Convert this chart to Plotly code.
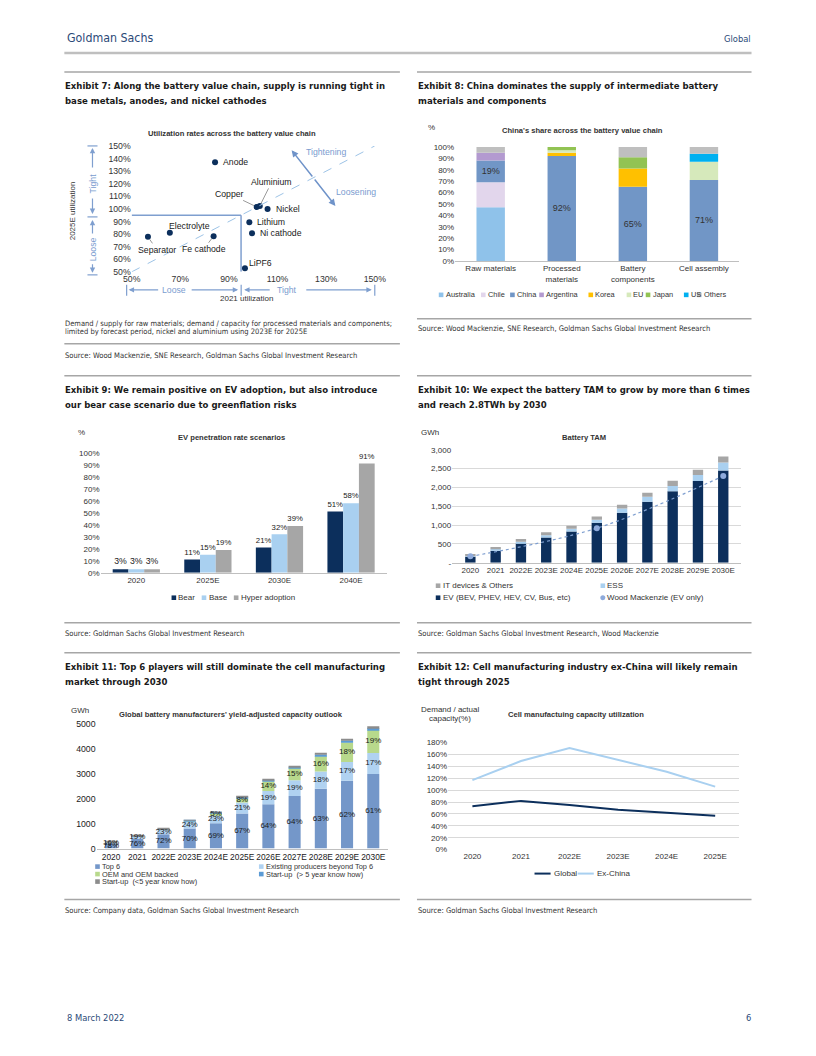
import numpy as np
import plotly.graph_objects as go

W, H = 816, 1056
NARROW = "Liberation Sans Narrow, Arial Narrow, DejaVu Sans Condensed, sans-serif"
SANS = "Liberation Sans, Arial, Helvetica, sans-serif"
TXT = "#333333"
DARK = "#1a1a1a"
HEAD = "#2c4a78"
NAVY = "#0c2f5c"
LIGHT = "#a9d0f0"
GREY = "#a6a6a6"
RULE = "#a6a6a6"
STEEL = "#7f9fcf"

# ====================== DATA ======================
# Exhibit 7 - utilization scatter
e7_items = ["Anode", "Copper", "Aluminium", "Nickel", "Lithium", "Ni cathode",
            "Electrolyte", "Separator", "Fe cathode", "LiPF6"]
e7_util_2021 = [84.3, 101.4, 102.7, 105.9, 98.4, 99.5, 65.7, 56.7, 83.7, 96.6]
e7_util_2025e = [137.0, 101.6, 102.4, 100.0, 89.4, 80.7, 81.0, 77.8, 78.3, 52.9]
e7_xticks = [50, 70, 90, 110, 130, 150]

# Exhibit 8 - share across value chain (%)
e8_categories = ["Raw materials", "Processed<br>materials", "Battery<br>components", "Cell assembly"]
e8_australia = [47, 0, 0, 0]
e8_chile = [22, 0, 0, 0]
e8_china = [19, 92, 65, 71]
e8_argentina = [7, 0, 0, 0]
e8_korea = [0, 3, 16, 0]
e8_eu = [0, 2, 0, 16]
e8_japan = [0, 3, 10, 0]
e8_us = [0, 0, 0, 7]
e8_others = [5, 0, 9, 6]

# Exhibit 9 - EV penetration (%)
e9_years = ["2020", "2025E", "2030E", "2040E"]
e9_bear = [3, 11, 21, 51]
e9_base = [3, 15, 32, 58]
e9_hyper = [3, 19, 39, 91]

# Exhibit 10 - Battery TAM (GWh)
e10_years = ["2020", "2021", "2022E", "2023E", "2024E", "2025E",
             "2026E", "2027E", "2028E", "2029E", "2030E"]
e10_ev = [160, 320, 510, 670, 830, 1060, 1330, 1620, 1900, 2170, 2450]
e10_ess = [15, 40, 50, 60, 70, 80, 110, 130, 140, 160, 210]
e10_it = [55, 60, 70, 80, 80, 90, 100, 110, 140, 140, 160]
e10_wm_years = ["2020", "2025E", "2030E"]
e10_wm = [169, 917, 2305]
e10_ticks = [0, 500, 1000, 1500, 2000, 2500, 3000]
e10_ticklabels = ["-", "500", "1,000", "1,500", "2,000", "2,500", "3,000"]

# Exhibit 11 - yield-adjusted capacity (GWh)
e11_years = e10_years
e11_top6 = [218, 395, 576, 805, 1014, 1407, 1779, 2106, 2400, 2716, 2989]
e11_existing = [45, 99, 184, 276, 338, 441, 528, 625, 686, 745, 833]
e11_oem = [6, 10, 16, 35, 74, 168, 389, 494, 610, 788, 931]
e11_startup_old = [6, 8, 14, 23, 29, 52, 56, 40, 70, 79, 76]
e11_startup_new = [5, 8, 10, 11, 15, 32, 28, 25, 44, 52, 71]
e11_top6_lbl = ["78%", "76%", "72%", "70%", "69%", "67%", "64%", "64%", "63%", "62%", "61%"]
e11_existing_lbl = ["16%", "19%", "23%", "24%", "23%", "21%", "19%", "19%", "18%", "17%", "17%"]
e11_oem_lbl = ["", "", "", "", "5%", "8%", "14%", "15%", "16%", "18%", "19%"]

# Exhibit 12 - cell capacity utilization (%)
e12_years = ["2020", "2021", "2022E", "2023E", "2024E", "2025E"]
e12_global = [73, 82, 75, 67, 62, 57]
e12_exchina = [117, 149, 171, 151, 131, 106]

# ====================== HELPERS ======================
# page positions are given in target-picture pixels; small correction for how the page is photographed
SX, OX = 0.971, 10.9
SY, OY = 0.991, 4.0


def px(x):
    return ((x - OX) / SX) / W


def py(y):
    return 1 - ((y - OY) / SY) / H


shapes = []
annotations = []


def pline(x0, y0, x1, y1, color=RULE, width=1.5, dash=None):
    shapes.append(dict(type="line", xref="paper", yref="paper", x0=px(x0), y0=py(y0),
                       x1=px(x1), y1=py(y1), line=dict(color=color, width=width, dash=dash)))


def ptext(x, y, text, size=8, color=TXT, family=SANS, xanchor="left", bold=False, angle=0):
    if bold:
        text = f"<b>{text}</b>"
    annotations.append(dict(xref="paper", yref="paper", x=px(x), y=py(y), text=text,
                            showarrow=False, xanchor=xanchor, yanchor="middle", borderpad=0,
                            font=dict(family=family, size=size, color=color), textangle=angle))


def parrow(xh, yh, xt, yt, color=STEEL):
    annotations.append(dict(xref="paper", yref="paper", x=px(xh), y=py(yh), ax=xt - xh, ay=yt - yh,
                            text="", showarrow=True, arrowhead=2, arrowsize=0.9, arrowwidth=1.2,
                            arrowcolor=color))


def legend_item(x, y, text, color, kind="square", size=7.5):
    if kind == "square":
        shapes.append(dict(type="rect", xref="paper", yref="paper", x0=px(x - 2.3), x1=px(x + 2.3),
                           y0=py(y + 2.3), y1=py(y - 2.3), fillcolor=color, line=dict(width=0)))
        ptext(x + 3.5, y, text, size=size)
    elif kind == "circle":
        shapes.append(dict(type="circle", xref="paper", yref="paper", x0=px(x - 2.5), x1=px(x + 2.5),
                           y0=py(y + 2.5), y1=py(y - 2.5), fillcolor=color, line=dict(width=0)))
        ptext(x + 3.5, y, text, size=size)
    else:  # line
        pline(x - 8, y, x + 8, y, color=color, width=2)
        ptext(x + 10, y, text, size=size)


def axis(domain, **kw):
    d = dict(domain=domain, showgrid=False, zeroline=False, showline=False, ticks="",
             fixedrange=True, tickangle=0, tickfont=dict(family=SANS, size=8, color=TXT))
    d.update(kw)
    return d


def xdom(a, b):
    return [px(a), px(b)]


def ydom(bottom, top):
    return [py(bottom), py(top)]


fig = go.Figure()


def add_stack(xa, ya, cats, series, width):
    base = np.zeros(len(cats))
    for vals, color, txt in series:
        v = np.array(vals, dtype=float)
        kw = {}
        if txt is not None:
            kw = dict(text=txt, textposition="inside", insidetextanchor="middle",
                      textfont=dict(family=SANS, size=9, color=TXT), textangle=0)
        fig.add_trace(go.Bar(x=cats, y=v, base=base.copy(), width=width,
                             marker=dict(color=color, line=dict(width=0)),
                             xaxis=xa, yaxis=ya, hoverinfo="skip", **kw))
        base = base + v
    return base


# ====================== PAGE FRAME ======================
ptext(68, 37, "Goldman Sachs", size=12.3, color=HEAD, family=NARROW)
ptext(750, 38, "Global", size=9.3, color=HEAD, family=NARROW, xanchor="right")
pline(66, 52, 750, 52, color="#bfbfbf", width=2.5)
ptext(68, 1017, "8 March 2022", size=9.3, color=HEAD, family=NARROW)
ptext(750, 1017, "6", size=9.3, color=HEAD, family=NARROW, xanchor="right")

TS = 9.5
for (xl, xr), ytop, l1, l2 in [
    ((66, 400), 71, "Exhibit 7: Along the battery value chain, supply is running tight in",
     "base metals, anodes, and nickel cathodes"),
    ((417, 750), 71, "Exhibit 8: China dominates the supply of intermediate battery",
     "materials and components"),
    ((66, 400), 375, "Exhibit 9: We remain positive on EV adoption, but also introduce",
     "our bear case scenario due to greenflation risks"),
    ((417, 750), 375, "Exhibit 10: We expect the battery TAM to grow by more than 6 times",
     "and reach 2.8TWh by 2030"),
    ((66, 400), 652, "Exhibit 11: Top 6 players will still dominate the cell manufacturing",
     "market through 2030"),
    ((417, 750), 652, "Exhibit 12: Cell manufacturing industry ex-China will likely remain",
     "tight through 2025"),
]:
    pline(xl, ytop, xr, ytop)
    ptext(xl, ytop + 14, l1, size=TS, color=DARK, family=NARROW, bold=True)
    ptext(xl, ytop + 29, l2, size=TS, color=DARK, family=NARROW, bold=True)

SRC = 7.6
ptext(66, 323, "Demand / supply for raw materials; demand / capacity for processed materials and components;",
      size=7.5, family=NARROW)
ptext(66, 331, "limited by forecast period, nickel and aluminium using 2023E for 2025E", size=7.5, family=NARROW)
pline(66, 343, 400, 343)
ptext(66, 355, "Source: Wood Mackenzie, SNE Research, Goldman Sachs Global Investment Research",
      size=SRC, family=NARROW)
pline(417, 318, 750, 318)
ptext(417, 328, "Source: Wood Mackenzie, SNE Research, Goldman Sachs Global Investment Research",
      size=SRC, family=NARROW)
pline(66, 622, 400, 622)
ptext(66, 633, "Source: Goldman Sachs Global Investment Research", size=SRC, family=NARROW)
pline(417, 622, 750, 622)
ptext(417, 633, "Source: Goldman Sachs Global Investment Research, Wood Mackenzie", size=SRC, family=NARROW)
pline(66, 899, 400, 899)
ptext(66, 910, "Source: Company data, Goldman Sachs Global Investment Research", size=SRC, family=NARROW)
pline(417, 899, 750, 899)
ptext(417, 910, "Source: Goldman Sachs Global Investment Research", size=SRC, family=NARROW)

# ====================== EXHIBIT 7 ======================
ptext(233, 133, "Utilization rates across the battery value chain", size=7.6, bold=True, xanchor="center")
fig.add_trace(go.Scatter(x=e7_util_2021, y=e7_util_2025e, mode="markers",
                         marker=dict(color=NAVY, size=6), xaxis="x", yaxis="y",
                         cliponaxis=False, hoverinfo="skip"))
e7_label_style = {
    "Anode": dict(xshift=6, yshift=0),
    "Nickel": dict(xshift=6, yshift=0),
    "Lithium": dict(xshift=6, yshift=0),
    "Ni cathode": dict(xshift=6, yshift=0),
    "Electrolyte": dict(xshift=20, yshift=7, xanchor="center"),
    "Copper": dict(ax=-27, ay=-13),
    "Aluminium": dict(ax=12, ay=-24),
    "Separator": dict(ax=9, ay=13),
    "Fe cathode": dict(ax=-10, ay=13),
    "LiPF6": dict(ax=16, ay=-5),
}
for name, xv, yv in zip(e7_items, e7_util_2021, e7_util_2025e):
    st = e7_label_style[name]
    if "ax" in st:
        annotations.append(dict(x=xv, y=yv, xref="x", yref="y", text=name, showarrow=True,
                                arrowhead=0, arrowwidth=0.8, arrowcolor="#808080",
                                ax=st["ax"], ay=st["ay"], standoff=3,
                                font=dict(family=SANS, size=8.7, color=DARK)))
    else:
        annotations.append(dict(x=xv, y=yv, xref="x", yref="y", text=name, showarrow=False,
                                xanchor=st.get("xanchor", "left"), yanchor="middle",
                                xshift=st["xshift"], yshift=st["yshift"],
                                font=dict(family=SANS, size=8.7, color=DARK)))
shapes.append(dict(type="line", xref="x", yref="y", x0=50, y0=50, x1=150, y1=150,
                   line=dict(color="#9dc3e6", width=1, dash="dash")))
shapes.append(dict(type="line", xref="x", yref="y", x0=50, y0=95, x1=95, y1=95,
                   line=dict(color=STEEL, width=1.5)))
shapes.append(dict(type="line", xref="x", yref="y", x0=95, y0=50, x1=95, y1=95,
                   line=dict(color=STEEL, width=1.5)))
for hx, hy in [(115.8, 146.6), (133.8, 102.4)]:
    annotations.append(dict(x=hx, y=hy, xref="x", yref="y", ax=124.8, ay=124.5, axref="x", ayref="y",
                            text="", showarrow=True, arrowhead=2, arrowsize=0.9, arrowwidth=1.5,
                            arrowcolor="#6f93c9"))
annotations.append(dict(x=121, y=145.5, xref="x", yref="y", text="Tightening", showarrow=False,
                        xanchor="left", font=dict(family=SANS, size=8.7, color="#7a9ccf")))
annotations.append(dict(x=133.1, y=113.8, xref="x", yref="y", text="Loosening", showarrow=False,
                        xanchor="left", font=dict(family=SANS, size=8.7, color="#7a9ccf")))
ptext(75, 210, "2025E utilization", size=8, angle=-90, xanchor="center")
ptext(247, 298, "2021 utilization", size=8, xanchor="center")
for yc in (145, 216, 274):
    pline(89, yc, 99, yc, color=STEEL, width=1.2)
parrow(94, 147, 94, 168)
parrow(94, 213, 94, 196)
parrow(94, 219, 94, 234)
parrow(94, 272, 94, 262)
ptext(94, 182, "Tight", size=8.7, color="#7a9ccf", angle=-90, xanchor="center")
ptext(94, 248, "Loose", size=8.7, color="#7a9ccf", angle=-90, xanchor="center")
for xc in (128, 242, 375):
    pline(xc, 284, xc, 295, color=STEEL, width=1.2)
parrow(130, 289, 161, 289)
parrow(239, 289, 191, 289)
parrow(245, 289, 272, 289)
parrow(372, 289, 305, 289)
ptext(175, 289, "Loose", size=8.7, color="#7a9ccf", xanchor="center")
ptext(288, 289, "Tight", size=8.7, color="#7a9ccf", xanchor="center")

# ====================== EXHIBIT 8 ======================
ptext(431, 127, "%", size=8, xanchor="center")
ptext(582, 130, "China's share across the battery value chain", size=7.6, bold=True, xanchor="center")
e8_series = [
    (e8_australia, "#8fc2ea", None, "Australia"),
    (e8_chile, "#e2d6ec", None, "Chile"),
    (e8_china, "#7196c6", [f"{v}%" for v in e8_china], "China"),
    (e8_argentina, "#b39ad0", None, "Argentina"),
    (e8_korea, "#ffc000", None, "Korea"),
    (e8_eu, "#d6e9bb", None, "EU"),
    (e8_japan, "#92c353", None, "Japan"),
    (e8_us, "#00b0f0", None, "US"),
    (e8_others, "#bfbfbf", None, "Others"),
]
add_stack("x2", "y2", e8_categories, [(v, c, t) for v, c, t, _ in e8_series], 0.4)
for (v, c, t, name), xs in zip(e8_series, [441, 483, 512, 541, 590, 628, 647, 685, 698]):
    legend_item(xs, 294, name, c, size=7.4)

# ====================== EXHIBIT 9 ======================
ptext(83, 432, "%", size=8, xanchor="center")
ptext(232, 437, "EV penetration rate scenarios", size=7.6, bold=True, xanchor="center")
for vals, color, off in [(e9_bear, NAVY, -0.33), (e9_base, LIGHT, -0.11), (e9_hyper, GREY, 0.11)]:
    fig.add_trace(go.Bar(x=e9_years, y=vals, width=0.22, offset=off,
                         marker=dict(color=color, line=dict(width=0)),
                         text=[f"{v}%" for v in vals], textposition="outside", cliponaxis=False,
                         textfont=dict(family=SANS, size=8.7, color=DARK),
                         xaxis="x3", yaxis="y3", hoverinfo="skip"))
legend_item(175, 597, "Bear", NAVY, size=8)
legend_item(205, 597, "Base", LIGHT, size=8)
legend_item(237, 597, "Hyper adoption", GREY, size=8)

# ====================== EXHIBIT 10 ======================
ptext(430, 432, "GWh", size=8, xanchor="center")
ptext(583, 437, "Battery TAM", size=7.6, bold=True, xanchor="center")
add_stack("x4", "y4", e10_years, [(e10_ev, NAVY, None), (e10_ess, LIGHT, None), (e10_it, GREY, None)], 0.41)
fig.add_trace(go.Scatter(x=e10_wm_years, y=e10_wm, mode="lines+markers",
                         line=dict(color="#7f9fd0", width=1.2, dash="dot", shape="spline"),
                         marker=dict(color="#8eaadb", size=6), xaxis="x4", yaxis="y4",
                         hoverinfo="skip", cliponaxis=False))
legend_item(438, 585, "IT devices &amp; Others", GREY, size=8)
legend_item(602, 585, "ESS", LIGHT, size=8)
legend_item(438, 597, "EV (BEV, PHEV, HEV, CV, Bus, etc)", NAVY, size=8)
legend_item(602, 597, "Wood Mackenzie (EV only)", "#8eaadb", kind="circle", size=8)

# ====================== EXHIBIT 11 ======================
ptext(82, 710, "GWh", size=8, xanchor="center")
ptext(232, 714, "Global battery manufacturers' yield-adjusted capacity outlook", size=7.6, bold=True,
      xanchor="center")
e11_colors = ["#7497c9", "#b0d2f1", "#b8d98c", "#5b9bd5", "#8c8c8c"]
add_stack("x5", "y5", e11_years,
          [(e11_top6, e11_colors[0], None), (e11_existing, e11_colors[1], None),
           (e11_oem, e11_colors[2], None), (e11_startup_old, e11_colors[3], None),
           (e11_startup_new, e11_colors[4], None)], 0.46)
t6 = np.array(e11_top6, float)
ex = np.array(e11_existing, float)
oe = np.array(e11_oem, float)
for ymid, lbls in [(t6 / 2, e11_top6_lbl), (t6 + ex / 2, e11_existing_lbl), (t6 + ex + oe / 2, e11_oem_lbl)]:
    fig.add_trace(go.Scatter(x=e11_years, y=ymid, mode="text", text=lbls,
                             textfont=dict(family=SANS, size=8, color=DARK),
                             xaxis="x5", yaxis="y5", cliponaxis=False, hoverinfo="skip"))
legend_item(99, 866, "Top 6", e11_colors[0], size=7.4)
legend_item(262, 866, "Existing producers beyond Top 6", e11_colors[1], size=7.4)
legend_item(99, 873.5, "OEM and OEM backed", e11_colors[2], size=7.4)
legend_item(262, 873.5, "Start-up  (&gt; 5 year know how)", e11_colors[3], size=7.4)
legend_item(99, 881, "Start-up  (&lt;5 year know how)", e11_colors[4], size=7.4)

# ====================== EXHIBIT 12 ======================
ptext(450, 709, "Demand / actual", size=8, xanchor="center")
ptext(450, 718, "capacity(%)", size=8, xanchor="center")
ptext(575, 714, "Cell manufactuing capacity utilization", size=7.6, bold=True, xanchor="center")
for vals, color in [(e12_global, NAVY), (e12_exchina, LIGHT)]:
    fig.add_trace(go.Scatter(x=e12_years, y=vals, mode="lines", line=dict(color=color, width=2),
                             xaxis="x6", yaxis="y6", hoverinfo="skip"))
legend_item(542, 873, "Global", NAVY, kind="line", size=8)
legend_item(585, 873, "Ex-China", LIGHT, kind="line", size=8)

# ====================== LAYOUT ======================
fig.update_layout(
    width=W, height=H, margin=dict(l=0, r=0, t=0, b=0),
    paper_bgcolor="white", plot_bgcolor="white",
    showlegend=False, barmode="overlay",
    font=dict(family=SANS, color=TXT),
    shapes=shapes, annotations=annotations,
    xaxis=axis(xdom(133, 375), anchor="y", range=[50, 150], tickvals=e7_xticks,
               ticktext=[f"{v}%" for v in e7_xticks],
               tickfont=dict(family=SANS, size=8.7, color=TXT)),
    yaxis=axis(ydom(271, 145), anchor="x", range=[50, 150], dtick=10, tick0=50, ticksuffix="%",
               tickfont=dict(family=SANS, size=8.7, color=TXT)),
    xaxis2=axis(xdom(455, 738), anchor="y2", showline=True, linecolor="#bfbfbf",
                categoryorder="array", categoryarray=e8_categories),
    yaxis2=axis(ydom(260, 146), anchor="x2", range=[0, 100], dtick=10, ticksuffix="%"),
    xaxis3=axis(xdom(102, 387), anchor="y3", showline=True, linecolor="#bfbfbf"),
    yaxis3=axis(ydom(572, 452), anchor="x3", range=[0, 100], dtick=10, ticksuffix="%"),
    xaxis4=axis(xdom(452, 740), anchor="y4", showline=True, linecolor="#bfbfbf",
                categoryorder="array", categoryarray=e10_years),
    yaxis4=axis(ydom(562, 449), anchor="x4", range=[0, 3000], tickvals=e10_ticks,
                ticktext=e10_ticklabels, showgrid=True, gridcolor="#d9d9d9"),
    xaxis5=axis(xdom(98, 388), anchor="y5", showline=True, linecolor="#bfbfbf",
                categoryorder="array", categoryarray=e11_years,
                tickfont=dict(family=SANS, size=8.4, color=DARK)),
    yaxis5=axis(ydom(848, 723), anchor="x5", range=[0, 5000], dtick=1000,
                tickfont=dict(family=SANS, size=8.7, color=DARK)),
    xaxis6=axis(xdom(448, 738), anchor="y6", range=[-0.5, 5.5]),
    yaxis6=axis(ydom(849, 742), anchor="x6", range=[0, 180], dtick=20, ticksuffix="%",
                showgrid=True, gridcolor="#d9d9d9"),
)

fig.write_html(
    "out.html", config={"displayModeBar": False},
    post_script=("document.documentElement.style.margin='0';document.documentElement.style.overflow='hidden';"
                 "document.body.style.margin='0';document.body.style.padding='0';"
                 "document.body.style.overflow='hidden';"),
)
